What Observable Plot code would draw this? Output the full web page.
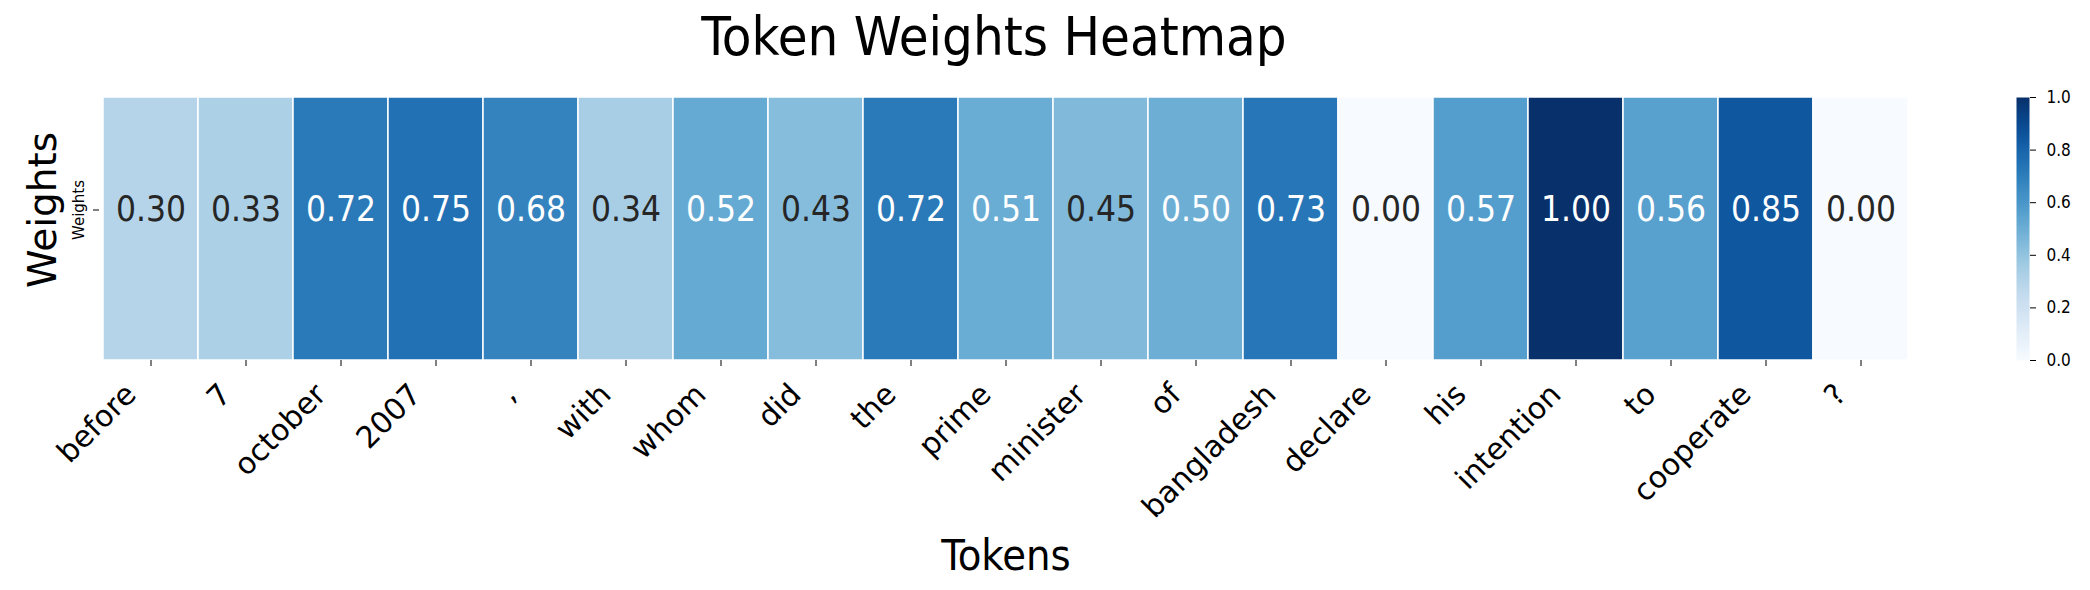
<!DOCTYPE html>
<html><head><meta charset="utf-8">
<script src="https://cdn.jsdelivr.net/npm/d3@7"></script>
<script src="https://cdn.jsdelivr.net/npm/@observablehq/plot@0.6"></script>
<style>
html,body{margin:0;padding:0;background:#fff;}
#chart{position:relative;width:2090px;height:590px;font-family:"DejaVu Sans",sans-serif;}
#chart svg{position:absolute;left:0;top:0;overflow:visible;}
</style></head><body><div id="chart"></div>
<script>
const tokens = ["before","7","october","2007",",","with","whom","did","the","prime","minister","of","bangladesh","declare","his","intention","to","cooperate","?"];
const weights = [0.30,0.33,0.72,0.75,0.68,0.34,0.52,0.43,0.72,0.51,0.45,0.50,0.73,0.00,0.57,1.00,0.56,0.85,0.00];
const rowLabels = ["Weights"];
const titleText = "Token Weights Heatmap";
const xLabel = "Tokens";
const yLabel = "Weights";
const colorTicks = [0, 0.2, 0.4, 0.6, 0.8, 1.0];

const data = tokens.map((t, i) => ({token: t, row: rowLabels[0], value: weights[i]}));

function luminance(c) {
  const col = d3.rgb(c);
  const f = v => { v /= 255; return v <= 0.03928 ? v / 12.92 : Math.pow((v + 0.055) / 1.055, 2.4); };
  return 0.2126 * f(col.r) + 0.7152 * f(col.g) + 0.0722 * f(col.b);
}
const isLight = d => luminance(d3.interpolateBlues(d.value)) > 0.408;

const W = 2090, H = 590, mt = 97, mb = 230, ml = 99, mr = 178;
const font = "DejaVu Sans";
const cond = "'DejaVu Sans Condensed', 'DejaVu Sans'";
const rowShift = -19;

const main = Plot.plot({
  width: W, height: H, marginTop: mt, marginBottom: mb, marginLeft: ml, marginRight: mr,
  style: {fontFamily: font, background: "transparent", color: "#000"},
  x: {domain: tokens, padding: 0, label: null},
  y: {domain: rowLabels, padding: 0, label: null},
  color: {type: "linear", scheme: "blues", domain: [0, 1]},
  marks: [
    Plot.cell(data, {x: "token", y: "row", fill: "value", stroke: "white", strokeWidth: 1.5}),
    Plot.text(data, {filter: isLight, x: "token", y: "row", dy: rowShift, text: d => d.value.toFixed(2), fill: "#262626", fontSize: 35, fontFamily: cond}),
    Plot.text(data, {filter: d => !isLight(d), x: "token", y: "row", dy: rowShift, text: d => d.value.toFixed(2), fill: "#ffffff", fontSize: 35, fontFamily: cond}),
    Plot.axisX({tickSize: 6, tickFormat: () => "", label: null}),
    Plot.axisX({tickSize: 0, tickPadding: 12, dx: -20, dy: 17, tickRotate: -45, fontSize: 30, label: null}),
    Plot.axisY({tickRotate: -90, fontSize: 15, tickSize: 6, tickPadding: 10, dy: rowShift, label: null}),
    Plot.text([titleText], {frameAnchor: "top", dx: -12, dy: -60, fontSize: 54, fontFamily: cond, lineAnchor: "middle", fill: "#000"}),
    Plot.text([xLabel], {frameAnchor: "bottom", dy: 196, fontSize: 43, fontFamily: cond, lineAnchor: "middle", fill: "#000"}),
    Plot.text([yLabel], {frameAnchor: "left", dx: -56, dy: rowShift, rotate: -90, fontSize: 39, textAnchor: "middle", lineAnchor: "middle", fill: "#000"})
  ]
});

const cb = Plot.plot({
  width: W, height: H, marginTop: mt, marginBottom: mb, marginLeft: 2016, marginRight: 61,
  style: {fontFamily: font, background: "transparent", color: "#000"},
  x: {domain: [0, 1], axis: null},
  y: {domain: [0, 1], axis: null},
  color: {type: "linear", scheme: "blues", domain: [0, 1]},
  marks: [
    Plot.raster({x1: 0, x2: 1, y1: 0, y2: 1, width: 1, height: 256, fill: (x, y) => y}),
    Plot.axisY(colorTicks, {anchor: "right", tickFormat: d3.format(".1f"), fontSize: 17, fontFamily: cond, tickSize: 6, tickPadding: 11, label: null})
  ]
});

const chart = document.getElementById("chart");
chart.appendChild(main);
chart.appendChild(cb);
</script></body></html>
